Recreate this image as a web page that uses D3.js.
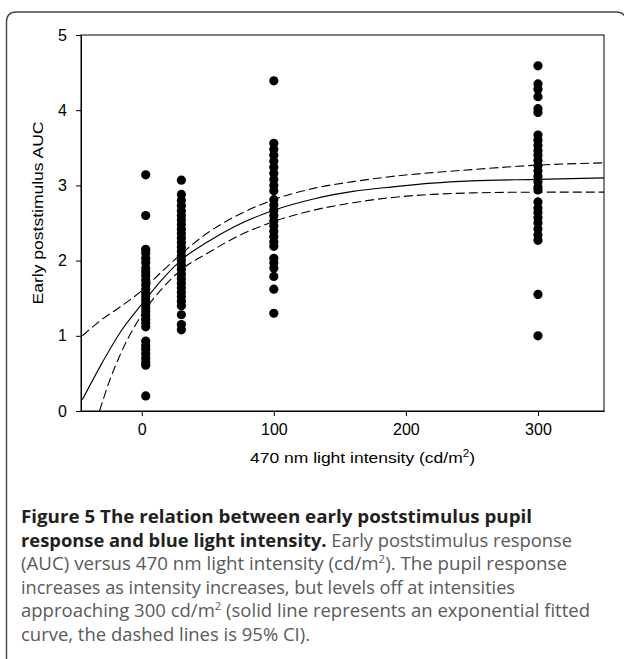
<!DOCTYPE html>
<html>
<head>
<meta charset="utf-8">
<script src="https://cdn.jsdelivr.net/npm/d3@7"></script>
<style>
  body { margin: 0; background: #fff; }
  svg { display: block; }
</style>
</head>
<body>
<div id="chart"></div>
<script>
// light intensity groups (cd/m2)
const intensity = [3, 30, 100, 300]

// early poststimulus AUC per group
const auc3 = [3.14, 2.60, 2.15, 2.10, 2.03, 1.97, 1.90, 1.85, 1.80, 1.74, 1.68, 1.62, 1.57, 1.52,
  1.47, 1.42, 1.37, 1.32, 1.27, 1.22, 1.17, 1.12, 0.93, 0.87, 0.82, 0.76, 0.70, 0.65, 0.61, 0.20]
const auc30 = [3.07, 2.88, 2.80, 2.73, 2.66, 2.60, 2.54, 2.48, 2.42, 2.36, 2.30, 2.24, 2.18, 2.12,
  2.06, 2.00, 1.94, 1.88, 1.82, 1.76, 1.70, 1.64, 1.58, 1.52, 1.46, 1.40, 1.28, 1.15, 1.08]
const auc100 = [4.39, 3.56, 3.48, 3.40, 3.32, 3.24, 3.16, 3.08, 3.00, 2.93, 2.81, 2.74, 2.67, 2.60,
  2.53, 2.46, 2.39, 2.32, 2.25, 2.19, 2.03, 1.97, 1.90, 1.79, 1.62, 1.30]
const auc300 = [4.59, 4.35, 4.28, 4.18, 4.02, 3.97, 3.67, 3.60, 3.53, 3.46, 3.40, 3.33, 3.26, 3.19,
  3.12, 3.05, 2.98, 2.94, 2.78, 2.70, 2.64, 2.57, 2.50, 2.42, 2.34, 2.27, 1.55, 1.00]

// fitted curve and 95% CI, sampled off the figure
const curveX = [-45, -30, -15, 0, 15, 30, 50, 70, 100, 130, 160, 190, 220, 250, 300, 350]
const fitAUC = [0.15, 0.64, 1.08, 1.42, 1.74, 2.01, 2.25, 2.45, 2.67, 2.82, 2.92, 2.98, 3.03, 3.06, 3.08, 3.10]
const upperCI = [1.00, 1.22, 1.40, 1.60, 1.85, 2.09, 2.37, 2.58, 2.81, 2.96, 3.05, 3.12, 3.17, 3.21, 3.27, 3.30]
const lowerX = [-32, -24, -15, 0, 15, 30, 50, 70, 100, 130, 160, 190, 220, 250, 300, 350]
const lowerCI = [0.0, 0.42, 0.80, 1.28, 1.62, 1.88, 2.10, 2.30, 2.52, 2.67, 2.77, 2.84, 2.88, 2.90, 2.91, 2.91]

const xTicks = [0, 100, 200, 300]
const yTicks = [0, 1, 2, 3, 4, 5]

const captionLines = [
  [{b: "Figure 5 The relation between early poststimulus pupil"}],
  [{b: "response and blue light intensity."}, {t: " Early poststimulus response"}],
  [{t: "(AUC) versus 470 nm light intensity (cd/m"}, {s: "2"}, {t: "). The pupil response"}],
  [{t: "increases as intensity increases, but levels off at intensities"}],
  [{t: "approaching 300 cd/m"}, {s: "2"}, {t: " (solid line represents an exponential fitted"}],
  [{t: "curve, the dashed lines is 95% CI)."}]
]
const captionEnds = [532, 572, 567, 515, 590, 310]

var width = 624, height = 659
var margin = {top: 35, right: 20, bottom: 248, left: 81}

const svg = d3.select("#chart").append("svg")
    .attr("width", width)
    .attr("height", height)

// figure frame, rounded top corners
svg.append("path")
    .attr("d", "M6.5,670 L6.5,22 Q6.5,12 16.5,12 L616,12 Q626,12 626,22 L626,670")
    .attr("fill", "none")
    .attr("stroke", "#444")
    .attr("stroke-width", 1.4)

const x = d3.scaleLinear()
    .domain([-46, 350])
    .range([margin.left, width - margin.right])
const y = d3.scaleLinear()
    .domain([0, 5])
    .range([height - margin.bottom, margin.top])

const axisFont = "'Liberation Sans', Arial, sans-serif"

// plot box
svg.append("rect")
    .attr("x", x.range()[0])
    .attr("y", y.range()[1])
    .attr("width", x.range()[1] - x.range()[0])
    .attr("height", y.range()[0] - y.range()[1])
    .attr("fill", "none")
    .attr("stroke", "#000")
    .attr("stroke-width", 1)

const gx = svg.append("g")
    .attr("transform", "translate(0," + y.range()[0] + ")")
    .call(d3.axisBottom(x).tickValues(xTicks).tickFormat(d3.format("d"))
      .tickSize(5).tickSizeOuter(0).tickPadding(8))
const gy = svg.append("g")
    .attr("transform", "translate(" + x.range()[0] + ",0)")
    .call(d3.axisLeft(y).tickValues(yTicks).tickFormat(d3.format("d"))
      .tickSize(5).tickSizeOuter(0).tickPadding(9))

;[gx, gy].forEach(g => {
  g.selectAll("text").attr("font-family", axisFont).attr("font-size", 16).attr("fill", "#000")
  g.selectAll("line, path").attr("stroke", "#000")
})

// axis titles
const xt = svg.append("text")
    .attr("x", 250)
    .attr("y", 463)
    .attr("font-family", axisFont)
    .attr("font-size", 15)
    .attr("textLength", 225)
    .attr("lengthAdjust", "spacingAndGlyphs")
xt.append("tspan").text("470 nm light intensity (cd/m")
xt.append("tspan").attr("dy", -6).attr("font-size", 10).text("2")
xt.append("tspan").attr("dy", 6).text(")")

svg.append("text")
    .attr("transform", "translate(43,213) rotate(-90)")
    .attr("text-anchor", "middle")
    .attr("font-family", axisFont)
    .attr("font-size", 15)
    .attr("textLength", 183)
    .attr("lengthAdjust", "spacingAndGlyphs")
    .text("Early poststimulus AUC")

// curves
const line = d3.line()
    .x(d => x(d[0]))
    .y(d => y(d[1]))
    .curve(d3.curveMonotoneX)

const curves = [
  {pts: d3.zip(curveX, fitAUC), dash: null},
  {pts: d3.zip(curveX, upperCI), dash: "9,4"},
  {pts: d3.zip(lowerX, lowerCI), dash: "9,4"}
]
svg.append("g")
  .selectAll("path")
  .data(curves)
  .join("path")
    .attr("d", d => line(d.pts))
    .attr("fill", "none")
    .attr("stroke", "#000")
    .attr("stroke-width", 1.1)
    .attr("stroke-dasharray", d => d.dash)

// scatter points
const groups = [auc3, auc30, auc100, auc300]
const points = []
groups.forEach((vals, i) => vals.forEach(v => points.push([intensity[i], v])))

svg.append("g")
  .selectAll("circle")
  .data(points)
  .join("circle")
    .attr("cx", d => x(d[0]))
    .attr("cy", d => y(d[1]))
    .attr("r", 4.6)
    .attr("fill", "#000")

// caption
const capFont = "'Open Sans', 'Noto Sans', sans-serif"
captionLines.forEach((parts, i) => {
  const t = svg.append("text")
      .attr("x", 21)
      .attr("y", 523 + i * 23.5)
      .attr("font-family", capFont)
      .attr("font-size", 18)
      .attr("textLength", captionEnds[i] - 21)
      .attr("lengthAdjust", "spacingAndGlyphs")
  let shift = 0
  parts.forEach(p => {
    let s
    if (p.b) s = t.append("tspan").attr("font-weight", "bold").attr("fill", "#231f20").text(p.b)
    if (p.t) s = t.append("tspan").attr("fill", "#5a5a5c").text(p.t)
    if (p.s) {
      t.append("tspan").attr("fill", "#5a5a5c").attr("font-size", 11).attr("dy", -7).text(p.s)
      shift = 7
      return
    }
    if (shift) { s.attr("dy", shift); shift = 0 }
  })
})
</script>
</body>
</html>
